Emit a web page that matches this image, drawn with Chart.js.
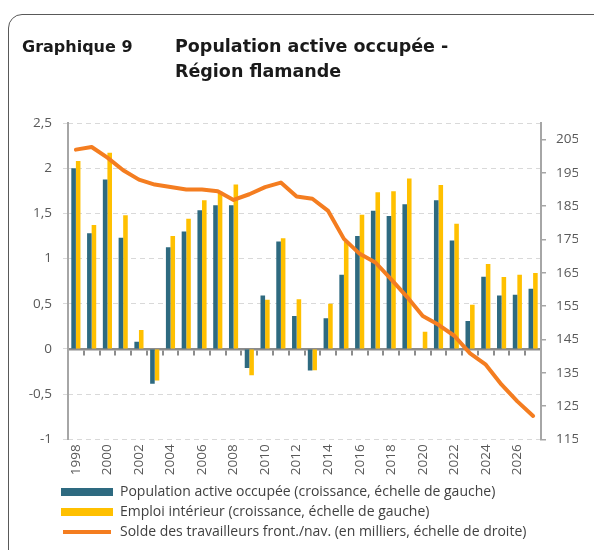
<!DOCTYPE html>
<html>
<head>
<meta charset="utf-8">
<script src="https://cdn.jsdelivr.net/npm/chart.js@4/dist/chart.umd.min.js"></script>
<style>
  html, body { margin: 0; padding: 0; background: #fff; }
  body { width: 594px; height: 550px; position: relative; overflow: hidden; }
  #frame { position: absolute; left: 8px; top: 14px; width: 600px; height: 600px;
           border: 1px solid #595959; border-radius: 14px; box-sizing: border-box; }
  #title { position: absolute; left: 22px; top: 34px; font-family: "DejaVu Sans", sans-serif;
           font-weight: bold; color: #1a1a1a; line-height: 25px; }
  #title .num { position: absolute; left: 0; top: 0; white-space: nowrap; font-size: 16px; }
  #title .txt { position: absolute; left: 153px; top: 0; white-space: nowrap; font-size: 17.5px; }
  #wrap { position: absolute; left: 0; top: 0; width: 594px; height: 550px; }
</style>
</head>
<body>
<div id="frame"></div>
<div id="wrap"><canvas id="c" width="594" height="550"></canvas></div>
<div id="title"><div class="num">Graphique 9</div><div class="txt">Population active occupée -<br>Région flamande</div></div>
<script>
const years = [1998,1999,2000,2001,2002,2003,2004,2005,2006,2007,2008,2009,2010,2011,2012,2013,2014,2015,2016,2017,2018,2019,2020,2021,2022,2023,2024,2025,2026,2027];
const populationActiveOccupee = [2.00,1.28,1.875,1.23,0.08,-0.385,1.125,1.30,1.535,1.59,1.59,-0.21,0.59,1.19,0.365,-0.24,0.34,0.82,1.25,1.53,1.47,1.60,0.0,1.646,1.20,0.31,0.80,0.59,0.60,0.665];
const emploiInterieur = [2.08,1.37,2.17,1.48,0.21,-0.35,1.25,1.44,1.645,1.74,1.82,-0.29,0.545,1.225,0.55,-0.235,0.50,1.19,1.485,1.735,1.745,1.885,0.19,1.815,1.385,0.49,0.94,0.795,0.82,0.84];
const soldeFrontaliers = [202.0,202.8,199.6,195.8,193.0,191.5,190.75,190.0,190.0,189.5,186.9,188.6,190.75,192.1,187.9,187.25,183.6,175.2,170.7,168.1,163.0,157.8,152.0,149.4,146.1,140.8,137.4,131.4,126.4,122.0];
const leftTicks = [-1,-0.5,0,0.5,1,1.5,2,2.5];
const rightTicks = [115,125,135,145,155,165,175,185,195,205];
const seriesNames = [
  "Population active occupée (croissance, échelle de gauche)",
  "Emploi intérieur (croissance, échelle de gauche)",
  "Solde des travailleurs front./nav. (en milliers, échelle de droite)"
];

const BLUE = '#2E6A80', YELLOW = '#FFC000', ORANGE = '#F47D20';
const FONT = 'Open Sans';
const fmt = v => String(v).replace('.', ',');

const legendShift = {
  id: 'legendShift',
  afterLayout(chart) {
    const lg = chart.legend;
    if (!lg) return;
    const dx = 55 - lg.left;
    lg.left += dx; lg.right += dx;
  }
};

new Chart(document.getElementById('c'), {
  type: 'bar',
  plugins: [legendShift],
  data: {
    labels: years.map(String),
    datasets: [
      { label: seriesNames[0], data: populationActiveOccupee, backgroundColor: BLUE, borderWidth: 0,
        yAxisID: 'y', xAxisID: 'x', categoryPercentage: 0.58, barPercentage: 1.0, order: 1 },
      { label: seriesNames[1], data: emploiInterieur, backgroundColor: YELLOW, borderWidth: 0,
        yAxisID: 'y', xAxisID: 'x', categoryPercentage: 0.58, barPercentage: 1.0, order: 1 },
      { type: 'line', label: seriesNames[2], data: soldeFrontaliers, borderColor: ORANGE, backgroundColor: ORANGE,
        borderWidth: 4, pointRadius: 0, tension: 0, borderJoinStyle: 'round', borderCapStyle: 'round',
        yAxisID: 'y2', xAxisID: 'x', order: 0 }
    ]
  },
  options: {
    responsive: false,
    animation: false,
    events: [],
    layout: { padding: { left: 20, top: 123, right: 16, bottom: 1 } },
    scales: {
      x: {
        position: 'bottom',
        grid: { display: false, drawTicks: false },
        border: { display: false },
        ticks: {
          autoSkip: false, maxRotation: 90, minRotation: 90, padding: 5,
          color: '#595959', font: { family: FONT, size: 13.5 },
          callback: function(v, i) { return years[i] % 2 === 0 ? String(years[i]) : ''; }
        },
        afterFit: s => { s.height = 39.7; }
      },
      x0: {
        type: 'category',
        position: { y: 0 },
        grid: { drawOnChartArea: false, drawTicks: true, tickLength: 5, color: '#8C8C8C', lineWidth: 2 },
        border: { display: true, color: '#8C8C8C', width: 2.5 },
        ticks: { display: false },
        afterFit: s => { s.height = 0; }
      },
      yL: {
        position: 'left',
        weight: 0,
        min: -1, max: 2.5,
        grid: { drawOnChartArea: false, drawTicks: false },
        border: { display: true, color: '#A6A6A6', width: 2 },
        ticks: { display: false },
        afterFit: s => { s.width = 0; }
      },
      y: {
        position: 'left',
        weight: 1,
        min: -1, max: 2.5,
        afterBuildTicks: s => { s.ticks = leftTicks.map(v => ({ value: v })); },
        grid: { color: '#D9D9D9', lineWidth: 1, drawTicks: true, tickLength: 5 },
        border: { display: false, dash: [5, 4] },
        ticks: { padding: 11, color: '#595959', font: { family: FONT, size: 13.5 }, callback: v => fmt(v) },
        afterFit: s => { s.width = 48; }
      },
      y2: {
        position: 'right',
        min: 115, max: 210,
        afterBuildTicks: s => { s.ticks = rightTicks.map(v => ({ value: v })); },
        grid: { drawOnChartArea: false, drawTicks: true, tickLength: 5, color: '#A6A6A6', lineWidth: 1.5 },
        border: { display: true, color: '#A6A6A6', width: 2 },
        ticks: { padding: 10, color: '#595959', font: { family: FONT, size: 13.5 } },
        afterFit: s => { s.width = 37; }
      }
    },
    plugins: {
      title: { display: false },
      tooltip: { enabled: false },
      legend: {
        display: true,
        position: 'bottom',
        align: 'start',
        labels: {
          boxWidth: 52, boxHeight: 8, padding: 6,
          color: '#404040', font: { family: FONT, size: 14 },
          generateLabels: function(chart) {
            return chart.data.datasets.map((ds, i) => {
              const isLine = ds.type === 'line';
              return {
                text: ds.label,
                datasetIndex: i,
                fillStyle: isLine ? ORANGE : ds.backgroundColor,
                strokeStyle: isLine ? '#ffffff' : ds.backgroundColor,
                lineWidth: isLine ? 4 : 0,
                hidden: false,
                fontColor: '#404040'
              };
            });
          }
        }
      }
    }
  }
});
</script>
</body>
</html>
